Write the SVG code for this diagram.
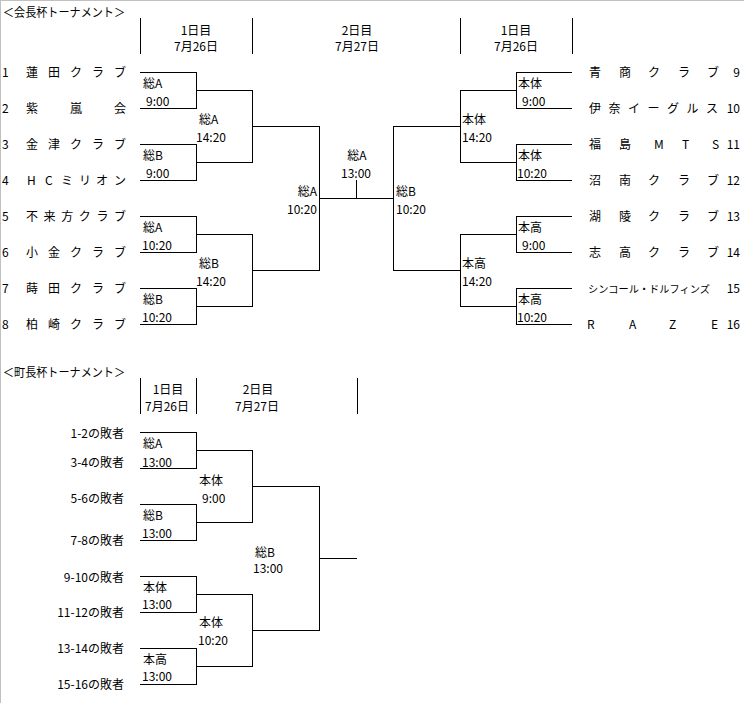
<svg xmlns="http://www.w3.org/2000/svg" width="744" height="703" viewBox="0 0 744 703">
<style>
text{font-family:"Noto Sans CJK JP","Noto Sans CJK SC",sans-serif;font-size:12px;fill:#000}
.m{text-anchor:middle}
.e{text-anchor:end}
.sm{font-size:10.2px}
.ln{fill:none;stroke:#000;stroke-width:1;shape-rendering:crispEdges}
.bd{fill:none;stroke:#c0c0c0;stroke-width:1;shape-rendering:crispEdges}
</style>
<rect width="744" height="703" fill="#fff"/>
<path class="bd" d="M0.5 0V703M0 0.5H744"/>

<g id="title-kaicho"><text x="3" y="17" textLength="122" lengthAdjust="spacingAndGlyphs">＜会長杯トーナメント＞</text></g>
<g id="hdr-top-day1-left"><text class="m" x="196" y="35">1日目</text><text class="m" x="196" y="51">7月26日</text></g>
<g id="hdr-top-day2"><text class="m" x="357" y="35">2日目</text><text class="m" x="357" y="51">7月27日</text></g>
<g id="hdr-top-day1-right"><text class="m" x="516" y="35">1日目</text><text class="m" x="516" y="51">7月26日</text></g>

<g id="team1"><text x="2" y="77">1</text><text x="26 48 70 92 114" y="77">蓮田クラブ</text></g>
<g id="team2"><text x="2" y="113">2</text><text x="26 70 114" y="113">紫嵐会</text></g>
<g id="team3"><text x="2" y="149">3</text><text x="26 48 70 92 114" y="149">金津クラブ</text></g>
<g id="team4"><text x="2" y="185">4</text><text x="27 45 61 79 96 114" y="185">HCミリオン</text></g>
<g id="team5"><text x="2" y="221">5</text><text x="26 43.6 61.2 78.8 96.4 114" y="221">不来方クラブ</text></g>
<g id="team6"><text x="2" y="257">6</text><text x="26 48 70 92 114" y="257">小金クラブ</text></g>
<g id="team7"><text x="2" y="293">7</text><text x="26 48 70 92 114" y="293">蒔田クラブ</text></g>
<g id="team8"><text x="2" y="329">8</text><text x="26 48 70 92 114" y="329">柏崎クラブ</text></g>

<g id="team9"><text x="589 619 648 678 707" y="77">青商クラブ</text><text class="e" x="740" y="77">9</text></g>
<g id="team10"><text x="589 608.5 628 647.5 667 686.5 706" y="113">伊奈イーグルス</text><text class="e" x="740" y="113">10</text></g>
<g id="team11"><text x="589 619 654 682 712" y="149">福島MTS</text><text class="e" x="740" y="149">11</text></g>
<g id="team12"><text x="589 619 648 678 707" y="185">沼南クラブ</text><text class="e" x="740" y="185">12</text></g>
<g id="team13"><text x="589 619 648 678 707" y="221">湖陵クラブ</text><text class="e" x="740" y="221">13</text></g>
<g id="team14"><text x="589 619 648 678 707" y="257">志高クラブ</text><text class="e" x="740" y="257">14</text></g>
<g id="team15"><text class="sm" x="588" y="293">シンコール・ドルフィンズ</text><text class="e" x="740" y="293">15</text></g>
<g id="team16"><text x="587 629 669 711" y="329">RAZE</text><text class="e" x="740" y="329">16</text></g>

<g id="m-l1"><text x="143" y="88">総A</text><text x="146" y="106">9:00</text></g>
<g id="m-l2"><text x="143" y="160">総B</text><text x="146" y="178">9:00</text></g>
<g id="m-l3"><text x="143" y="232">総A</text><text x="142" y="250">10:20</text></g>
<g id="m-l4"><text x="143" y="304">総B</text><text x="142" y="322">10:20</text></g>
<g id="m-l5"><text x="199" y="124">総A</text><text x="196" y="142">14:20</text></g>
<g id="m-l6"><text x="199" y="268">総B</text><text x="196" y="286">14:20</text></g>
<g id="m-l7"><text class="e" x="317" y="196">総A</text><text class="e" x="317" y="214">10:20</text></g>
<g id="m-final"><text class="m" x="357" y="160">総A</text><text class="m" x="356" y="178">13:00</text></g>
<g id="m-r7"><text x="396" y="196">総B</text><text x="396" y="214">10:20</text></g>
<g id="m-r5"><text x="462" y="124">本体</text><text x="462" y="142">14:20</text></g>
<g id="m-r6"><text x="462" y="268">本高</text><text x="462" y="286">14:20</text></g>
<g id="m-r1"><text x="518" y="88">本体</text><text x="522" y="106">9:00</text></g>
<g id="m-r2"><text x="518" y="160">本体</text><text x="517" y="178">10:20</text></g>
<g id="m-r3"><text x="518" y="232">本高</text><text x="522" y="250">9:00</text></g>
<g id="m-r4"><text x="518" y="304">本高</text><text x="517" y="322">10:20</text></g>

<g id="title-chocho"><text x="3" y="377" textLength="122" lengthAdjust="spacingAndGlyphs">＜町長杯トーナメント＞</text></g>
<g id="hdr-bot-day1"><text class="m" x="168" y="394">1日目</text><text class="m" x="167" y="411">7月26日</text></g>
<g id="hdr-bot-day2"><text class="m" x="258" y="394">2日目</text><text class="m" x="257" y="411">7月27日</text></g>

<g id="loser1"><text class="e" x="124" y="438">1-2の敗者</text></g>
<g id="loser2"><text class="e" x="124" y="467">3-4の敗者</text></g>
<g id="loser3"><text class="e" x="124" y="503">5-6の敗者</text></g>
<g id="loser4"><text class="e" x="124" y="545">7-8の敗者</text></g>
<g id="loser5"><text class="e" x="124" y="582">9-10の敗者</text></g>
<g id="loser6"><text class="e" x="124" y="617">11-12の敗者</text></g>
<g id="loser7"><text class="e" x="124" y="653">13-14の敗者</text></g>
<g id="loser8"><text class="e" x="124" y="689">15-16の敗者</text></g>

<g id="b-m1"><text x="143" y="448">総A</text><text x="142" y="467">13:00</text></g>
<g id="b-m2"><text x="143" y="520">総B</text><text x="142" y="538">13:00</text></g>
<g id="b-m3"><text x="143" y="592">本体</text><text x="142" y="609">13:00</text></g>
<g id="b-m4"><text x="143" y="664">本高</text><text x="142" y="681">13:00</text></g>
<g id="b-m5"><text x="199" y="485">本体</text><text x="202" y="503">9:00</text></g>
<g id="b-m6"><text x="199" y="627">本体</text><text x="198" y="645">10:20</text></g>
<g id="b-m7"><text x="255" y="557">総B</text><text x="253" y="573">13:00</text></g>

<g id="connectors">
<path class="ln" d="M140 18V54M252 18V54M460 18V54M572 18V54"/>
<path class="ln" d="M140 72H196V108H140M140 144H196V180H140M140 216H196V252H140M140 288H196V324H140M196 90H252V162H196M196 234H252V306H196M252 126H319V270H252M319 198H393M356 180V198M460 126H393V270H460M516 90H460V162H516M516 234H460V306H516M572 72H516V108H572M572 144H516V180H572M572 216H516V252H572M572 288H516V324H572"/>
<path class="ln" d="M140 378V414M196 378V414M357 378V414"/>
<path class="ln" d="M140 432H196V468H140M140 504H196V540H140M140 576H196V612H140M140 648H196V684H140M196 450H252V522H196M196 594H252V666H196M252 486H319V630H252M319 558H357"/>
</g>
</svg>
